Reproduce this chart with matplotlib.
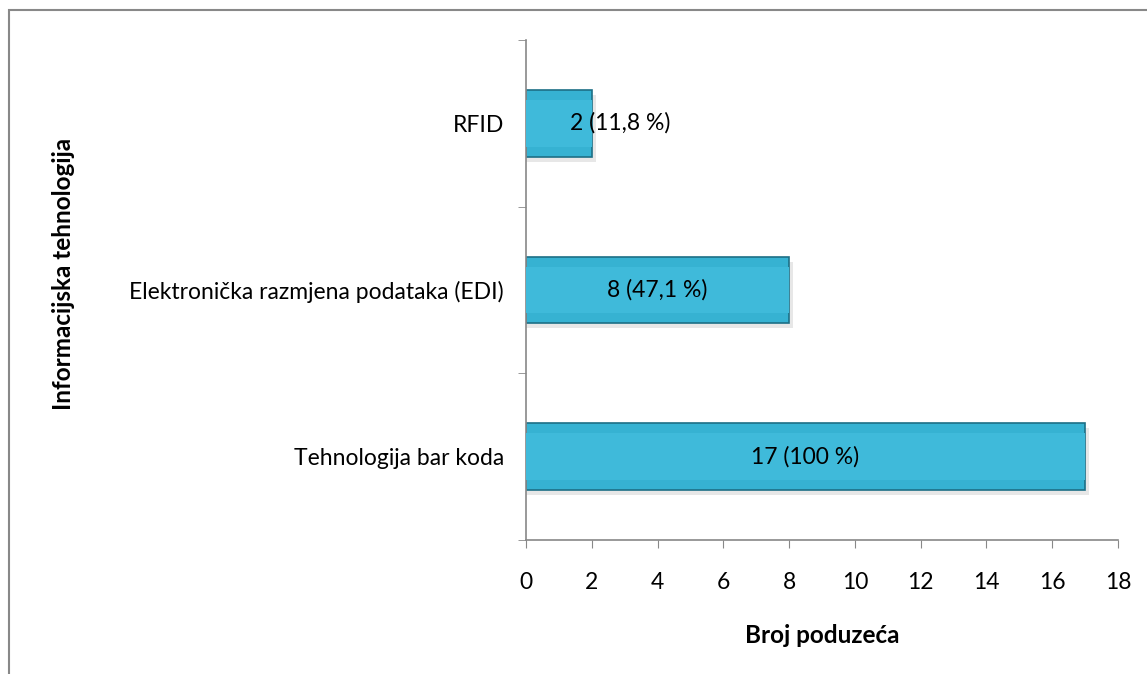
import matplotlib
matplotlib.use('Agg')
import matplotlib.pyplot as plt
from matplotlib.patches import Rectangle

categories = ['Tehnologija bar koda', 'Elektronička razmjena podataka (EDI)', 'RFID']
counts = [17, 8, 2]
labels = ['17 (100 %)', '8 (47,1 %)', '2 (11,8 %)']

plt.rcParams['font.family'] = ['Lato', 'DejaVu Sans']

fig = plt.figure(figsize=(11.47, 6.74), dpi=100)
ax = fig.add_axes([0.4586, 0.1988, 0.5161, 0.7419])

pos = list(range(len(categories)))
# shadow + bar
ax.barh([p - 0.03 for p in pos], [c + 0.12 for c in counts], height=0.4, left=0,
        color='#d8d8d8', alpha=0.6, zorder=1)
ax.barh(pos, counts, height=0.4, color='#36b2d2', edgecolor='#1d6f86', linewidth=1.2, zorder=2)
ax.barh(pos, counts, height=0.28, color='#3fbada', zorder=3)

for p, c, lab in zip(pos, counts, labels):
    if c < 3:
        ax.text(1.35, p, lab, ha='left', va='center', fontsize=16.5, zorder=4)
    else:
        ax.text(c / 2, p, lab, ha='center', va='center', fontsize=16.5, zorder=4)

ax.set_xlim(0, 18)
ax.set_ylim(-0.5, 2.5)
ax.set_xticks(range(0, 19, 2))
ax.set_yticks(pos)
ax.set_yticklabels(categories, fontsize=16.5)
ax.set_yticks([-0.5, 0.5, 1.5, 2.5], minor=True)
ax.tick_params(axis='y', which='major', length=0, pad=16)
ax.tick_params(axis='y', which='minor', length=6, color='#888888', direction='out')
ax.tick_params(axis='x', length=6, color='#888888', labelsize=16.5, pad=17)

for s in ['top', 'right']:
    ax.spines[s].set_visible(False)
for s in ['left', 'bottom']:
    ax.spines[s].set_color('#888888')
    ax.spines[s].set_linewidth(1.2)

ax.set_xlabel('Broj poduzeća', fontsize=17.5, fontweight='bold', labelpad=22)
fig.text(0.055, 0.593, 'Informacijska tehnologija', rotation=90, ha='center', va='center',
         fontsize=17.5, fontweight='bold')

fig.patches.append(Rectangle((9 / 1147, -0.1), 1.2, 1 - 10 / 674 + 0.1, transform=fig.transFigure,
                             fill=False, edgecolor='#888888', linewidth=1.5))

fig.savefig('out.png', dpi=100)
